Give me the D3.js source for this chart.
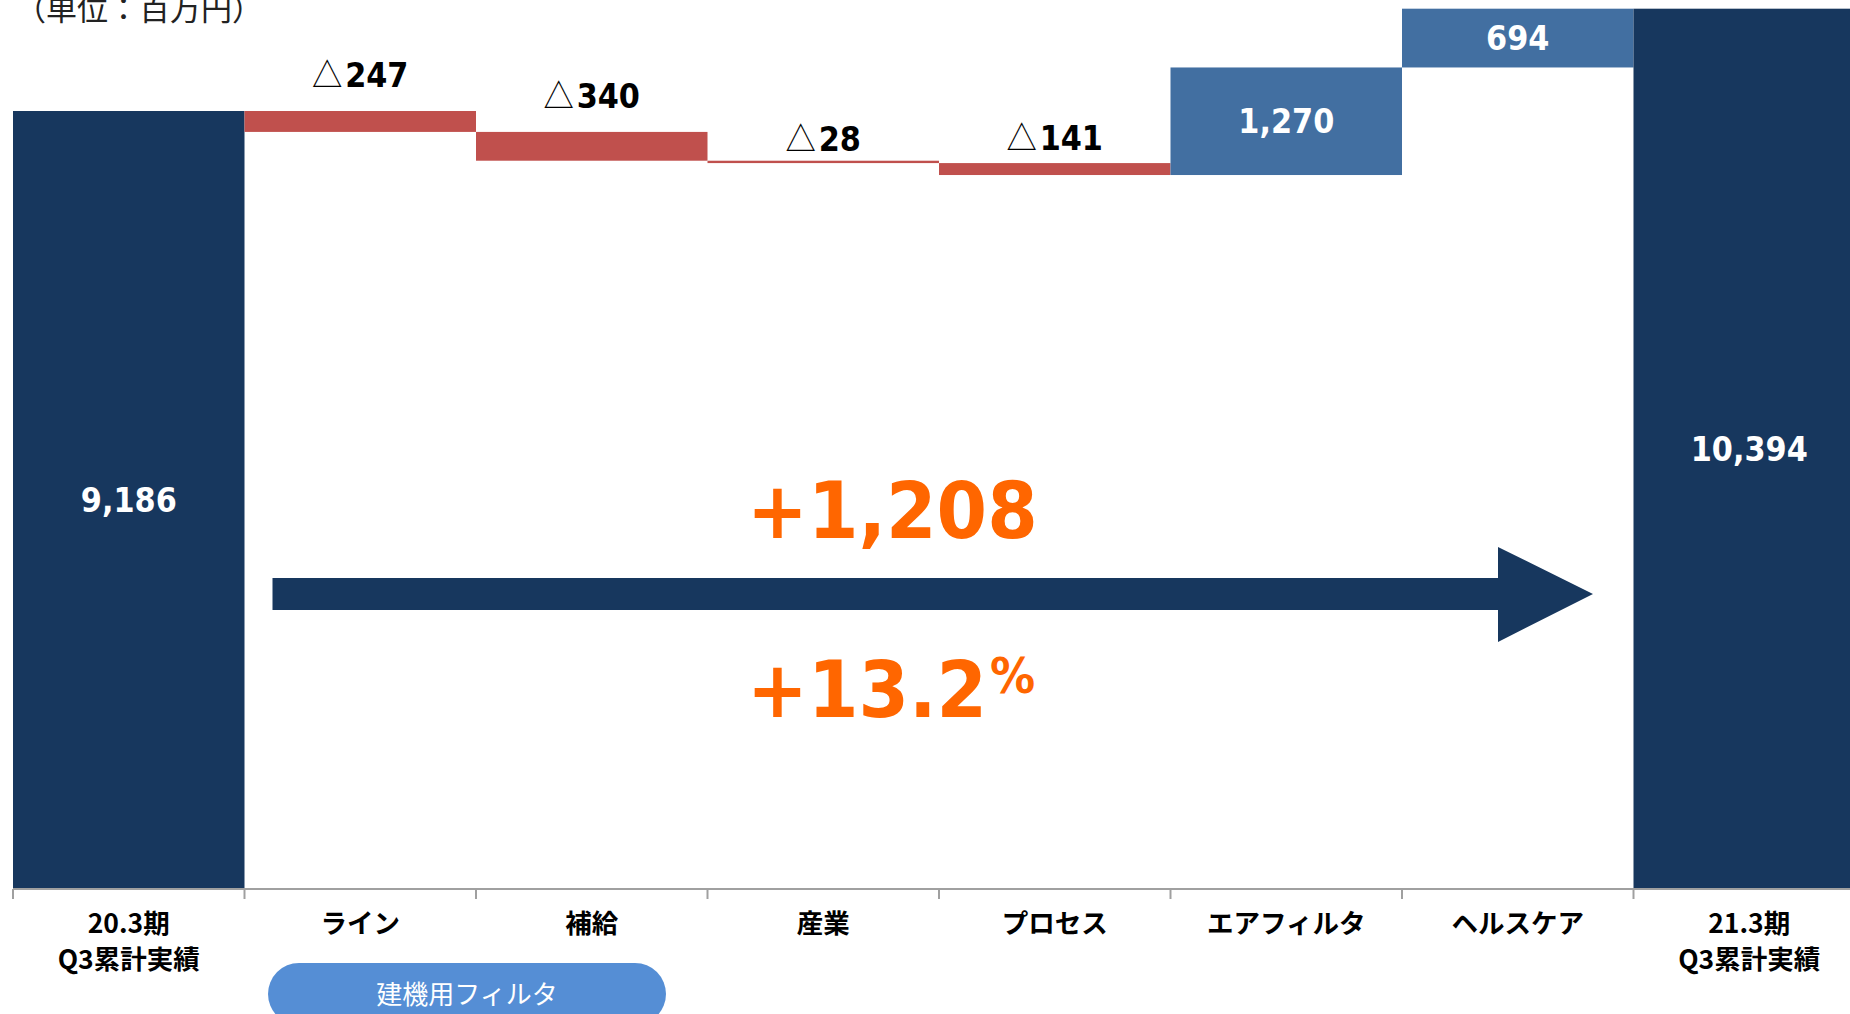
<!DOCTYPE html>
<html>
<head>
<meta charset="utf-8">
<script src="https://cdn.jsdelivr.net/npm/d3@7/dist/d3.min.js"></script>
<style>
  html, body { margin: 0; padding: 0; background: #fff; overflow: hidden; }
  svg { display: block; }
  .num { font-family: "DejaVu Sans", sans-serif; font-weight: bold; }
  .jp { font-family: "Noto Sans CJK JP", sans-serif; }
</style>
</head>
<body>
<svg id="chart" width="1850" height="1014"></svg>
<script>
// ---- data ----
const categories = ["20.3期\nQ3累計実績", "ライン", "補給", "産業", "プロセス", "エアフィルタ", "ヘルスケア", "21.3期\nQ3累計実績"];
const values = [9186, -247, -340, -28, -141, 1270, 694, 10394];
const kinds = ["total", "delta", "delta", "delta", "delta", "delta", "delta", "total"];
const valueLabels = ["9,186", "247", "340", "28", "141", "1,270", "694", "10,394"];
const groupLabel = "建機用フィルタ";
const changeLabel = "+1,208";
const changePctLabel = "+13.2";
const unitLabel = "（単位：百万円）";

// ---- layout ----
const W = 1850, H = 1014;
const svg = d3.select("#chart");
const colors = { total: "#17375E", up: "#426FA1", down: "#C0504D", orange: "#FF6600", pill: "#558ED5", axis: "#A0A0A0" };
const SX = 0.92; // horizontal squeeze of the number font

const band = 231.5;
const x = d3.scaleBand().domain(categories).range([13, 13 + band * categories.length]).padding(0);
const y = d3.scaleLinear().domain([0, 10500]).range([889, 889 - 10500 * (778 / 9186)]);

// compute waterfall
let running = 0;
const bars = categories.map((c, i) => {
  let y0, y1;
  if (kinds[i] === "total") { y0 = 0; y1 = values[i]; running = values[i]; }
  else { y0 = running; y1 = running + values[i]; running = y1; }
  return { c, i, v: values[i], kind: kinds[i], lo: Math.min(y0, y1), hi: Math.max(y0, y1), label: valueLabels[i] };
});

const g = svg.append("g");

// bars
g.selectAll("rect.bar").data(bars).enter().append("rect")
  .attr("class", "bar")
  .attr("x", d => x(d.c))
  .attr("width", x.bandwidth())
  .attr("y", d => y(d.hi))
  .attr("height", d => Math.max(1.5, y(d.lo) - y(d.hi)))
  .attr("fill", d => d.kind === "total" ? colors.total : (d.v < 0 ? colors.down : colors.up));

// axis
const axisG = g.append("g").attr("transform", `translate(0,${y(0)})`);
axisG.append("line").attr("x1", x.range()[0]).attr("x2", W).attr("y1", 0).attr("y2", 0)
  .attr("stroke", colors.axis).attr("stroke-width", 2);
const tickXs = categories.map(c => x(c));
axisG.selectAll("line.tick").data(tickXs).enter().append("line")
  .attr("class", "tick").attr("x1", d => d).attr("x2", d => d).attr("y1", 0).attr("y2", 10)
  .attr("stroke", colors.axis).attr("stroke-width", 2);

// category labels
bars.forEach(d => {
  const lines = d.c.split("\n");
  const t = g.append("text").attr("class", "jp")
    .attr("x", x(d.c) + x.bandwidth() / 2)
    .attr("text-anchor", "middle")
    .attr("font-size", 26.5).attr("font-weight", "bold").attr("fill", "#000");
  lines.forEach((ln, k) => {
    t.append("tspan").attr("x", x(d.c) + x.bandwidth() / 2)
      .attr("y", 921 + k * 36).attr("dominant-baseline", "central").text(ln);
  });
});

// helper: squeezed number text
function numG(px, py) {
  return g.append("g").attr("transform", `translate(${px},${py}) scale(${SX},1)`);
}

// value labels
const negGap = [0, 24, 24, 10, 13];
bars.forEach(d => {
  const cx = x(d.c) + x.bandwidth() / 2;
  if (d.kind === "delta" && d.v < 0) {
    const t = numG(cx, y(d.hi) - negGap[d.i]).append("text")
      .attr("text-anchor", "middle").attr("font-size", 33).attr("fill", "#000");
    t.append("tspan").attr("class", "jp").attr("font-weight", "normal").text("△");
    t.append("tspan").attr("class", "num").attr("dx", 3).text(d.label);
  } else {
    const mid = (y(d.hi) + y(d.lo)) / 2;
    numG(cx, mid + 12).append("text").attr("class", "num")
      .attr("text-anchor", "middle").attr("font-size", 33).attr("fill", "#fff").text(d.label);
  }
});

// big arrow
const ax0 = x(categories[1]) + 28, axHead = 1498, axTip = 1593, ayc = 594;
g.append("path")
  .attr("d", `M${ax0},${ayc - 16} L${axHead},${ayc - 16} L${axHead},${ayc - 47} L${axTip},${ayc} L${axHead},${ayc + 48} L${axHead},${ayc + 16} L${ax0},${ayc + 16} Z`)
  .attr("fill", colors.total);

// change labels
numG(747, 538).append("text").attr("class", "num")
  .attr("font-size", 79).attr("fill", colors.orange).text(changeLabel);
const pct = numG(747, 717).append("text").attr("class", "num")
  .attr("font-size", 79).attr("fill", colors.orange);
pct.append("tspan").text(changePctLabel);
pct.append("tspan").attr("font-size", 49).attr("dx", 3).attr("dy", -24).text("%");

// group pill
g.append("rect").attr("x", 268).attr("y", 963).attr("width", 398).attr("height", 62).attr("rx", 31)
  .attr("fill", colors.pill);
g.append("text").attr("class", "jp").attr("x", 467).attr("y", 992).attr("dominant-baseline", "central")
  .attr("text-anchor", "middle").attr("font-size", 26).attr("fill", "#fff").text(groupLabel);

// unit label
g.append("text").attr("class", "jp").attr("x", 15).attr("y", 20)
  .attr("font-size", 31).attr("fill", "#222").text(unitLabel);
</script>
</body>
</html>
